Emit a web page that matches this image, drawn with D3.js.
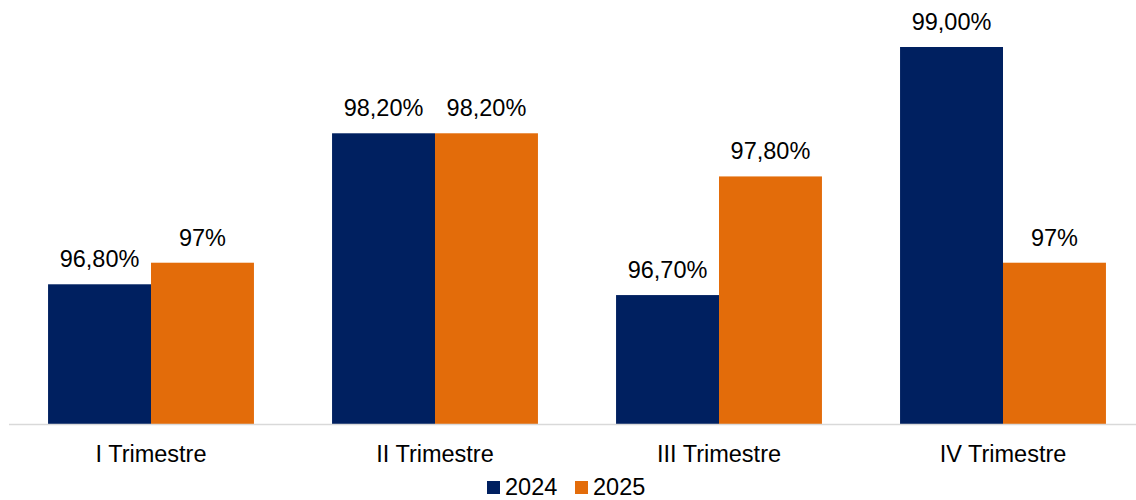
<!DOCTYPE html>
<html>
<head>
<meta charset="utf-8">
<script src="https://cdn.jsdelivr.net/npm/d3@7.9.0/dist/d3.min.js"></script>
<style>
  body { margin: 0; background: #fff; }
  svg { display: block; font-family: Arial, "Liberation Sans", sans-serif; }
</style>
</head>
<body>
<svg id="chart" width="1136" height="500"></svg>
<script>
// data
const categories = ['I Trimestre', 'II Trimestre', 'III Trimestre', 'IV Trimestre'];
const seriesNames = ['2024', '2025'];
const values2024 = [96.8, 98.2, 96.7, 99.0];
const values2025 = [97.0, 98.2, 97.8, 97.0];
const labels2024 = ['96,80%', '98,20%', '96,70%', '99,00%'];
const labels2025 = ['97%', '98,20%', '97,80%', '97%'];

const colors = d3.scaleOrdinal().domain(seriesNames).range(['#002060', '#E36C0A']);

const svg = d3.select('#chart');

// x: one band per quarter, inner band per year
const x = d3.scaleBand()
    .domain(categories)
    .range([9, 1145])
    .paddingInner(0.275)
    .paddingOuter(0.1375);
const xInner = d3.scaleBand()
    .domain(seriesNames)
    .range([0, x.bandwidth()]);

// y axis is not shown, min sits at 95.5
const y = d3.scaleLinear().domain([95.5, 99]).range([424.5, 47]);

let rows = categories.map((c, i) => ({
    cat: c,
    vals: [
        { s: '2024', v: values2024[i], label: labels2024[i] },
        { s: '2025', v: values2025[i], label: labels2025[i] }
    ]
}));

let groups = svg.selectAll('g.grp')
    .data(rows)
    .join('g')
    .attr('class', 'grp')
    .attr('transform', d => `translate(${x(d.cat)},0)`);

groups.selectAll('rect')
    .data(d => d.vals)
    .join('rect')
    .attr('x', d => xInner(d.s))
    .attr('y', d => y(d.v))
    .attr('width', xInner.bandwidth())
    .attr('height', d => y(95.5) - y(d.v))
    .attr('fill', d => colors(d.s));

groups.selectAll('text.val')
    .data(d => d.vals)
    .join('text')
    .attr('class', 'val')
    .attr('x', d => xInner(d.s) + xInner.bandwidth() / 2)
    .attr('y', d => y(d.v) - 17)
    .attr('text-anchor', 'middle')
    .attr('font-size', '23.5px')
    .attr('fill', '#000')
    .text(d => d.label);

// category axis
const xAxis = d3.axisBottom(x).tickSize(0).tickPadding(0);
const axisG = svg.append('g')
    .attr('transform', `translate(0,${y(95.5)})`)
    .call(xAxis);
axisG.select('.domain').attr('stroke', '#d9d9d9').attr('stroke-width', 1.5)
    .attr('d', 'M9,0H1145');
axisG.selectAll('text')
    .attr('font-size', '23.5px')
    .attr('font-family', 'Arial, "Liberation Sans", sans-serif')
    .attr('fill', '#000')
    .attr('dy', null)
    .attr('y', 37.5);

// legend
const legendX = [487, 575];
const legend = svg.append('g');
seriesNames.forEach((s, i) => {
    legend.append('rect')
        .attr('x', legendX[i]).attr('y', 481)
        .attr('width', 13).attr('height', 13)
        .attr('fill', colors(s));
    legend.append('text')
        .attr('x', legendX[i] + 18).attr('y', 495)
        .attr('font-size', '23.5px')
        .attr('fill', '#000')
        .text(s);
});
</script>
</body>
</html>
